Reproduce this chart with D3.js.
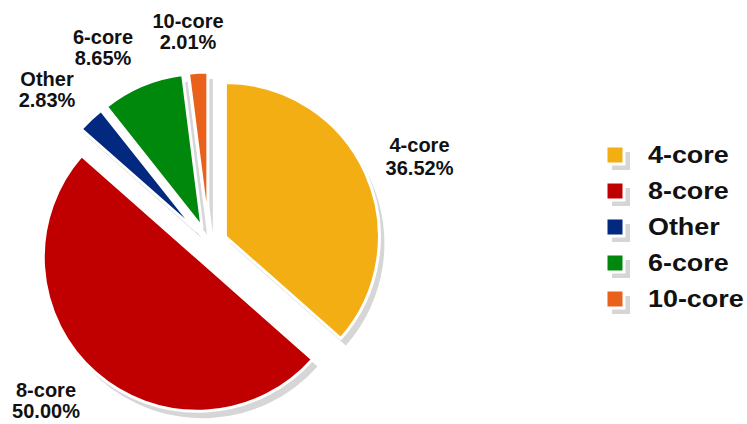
<!DOCTYPE html>
<html>
<head>
<meta charset="utf-8">
<script src="https://cdn.jsdelivr.net/npm/d3@7"></script>
<style>
  html, body { margin: 0; padding: 0; background: #ffffff; }
  svg { display: block; }
  text { font-family: "Liberation Sans", Arial, sans-serif; font-weight: bold; fill: #111; }
</style>
</head>
<body>
<svg id="chart" width="747" height="424"></svg>
<script>
// CPU core-count shares (percent of systems)
const categories = ["4-core", "8-core", "Other", "6-core", "10-core"];
const shares = [36.52, 50.00, 2.83, 8.65, 2.01];
const palette = ["#F2AE12", "#C00000", "#02297F", "#00880C", "#E9611A"];

// Where each outside label sits: [centre x, first baseline, line gap]
const labelLayout = {
  "4-core":  [419.5, 152, 23],
  "8-core":  [46, 397, 21],
  "Other":   [47, 86, 21],
  "6-core":  [103, 44, 21],
  "10-core": [188, 28, 21]
};

const width = 747, height = 424;
const cx = 209, cy = 244;
const radius = 154;
const explode = 18;
const shadowDx = 5, shadowDy = 7;

const svg = d3.select("#chart");

const color = d3.scaleOrdinal().domain(categories).range(palette);

const rows = categories.map((c, i) => ({ cat: c, share: shares[i] }));

const pie = d3.pie().sort(null).value(d => d.share).startAngle(0).endAngle(2 * Math.PI);
const arcs = pie(rows);

const arc = d3.arc().innerRadius(0).outerRadius(radius);

function offset(d) {
  const mid = (d.startAngle + d.endAngle) / 2;
  return [Math.sin(mid) * explode, -Math.cos(mid) * explode];
}

const pieG = svg.append("g").attr("transform", `translate(${cx},${cy})`);

// drop shadows under every slice
pieG.append("g").selectAll("path")
  .data(arcs)
  .join("path")
  .attr("d", arc)
  .attr("fill", "#d6d6d6")
  .attr("transform", d => {
    const [ox, oy] = offset(d);
    return `translate(${ox + shadowDx},${oy + shadowDy})`;
  });

// exploded slices
pieG.append("g").selectAll("path")
  .data(arcs)
  .join("path")
  .attr("d", arc)
  .attr("fill", d => color(d.data.cat))
  .attr("stroke", "#ffffff")
  .attr("stroke-width", 3)
  .attr("stroke-linejoin", "round")
  .attr("transform", d => {
    const [ox, oy] = offset(d);
    return `translate(${ox},${oy})`;
  });

// outside labels: name and share
const labels = svg.append("g").selectAll("text")
  .data(arcs)
  .join("text")
  .attr("text-anchor", "middle")
  .style("font-size", "20px");

labels.each(function(d) {
  const [x, y, gap] = labelLayout[d.data.cat];
  const t = d3.select(this);
  t.append("tspan").attr("x", x).attr("y", y).text(d.data.cat);
  t.append("tspan").attr("x", x).attr("y", y + gap).text(d.data.share.toFixed(2) + "%");
});

// legend
const rowY = d3.scalePoint().domain(categories).range([155, 299]);
const box = 18;
const legend = svg.append("g");

const item = legend.selectAll("g")
  .data(categories)
  .join("g")
  .attr("transform", c => `translate(606,${rowY(c)})`);

item.append("rect")
  .attr("x", 6).attr("y", -box / 2 + 6)
  .attr("width", box).attr("height", box)
  .attr("fill", "#d6d6d6");

item.append("rect")
  .attr("x", 0).attr("y", -box / 2)
  .attr("width", box).attr("height", box)
  .attr("fill", c => color(c))
  .attr("stroke", "#ffffff")
  .attr("stroke-width", 3);

item.append("text")
  .attr("transform", "translate(42,8) scale(1.17,1)")
  .style("font-size", "23px")
  .text(c => c);
</script>
</body>
</html>
